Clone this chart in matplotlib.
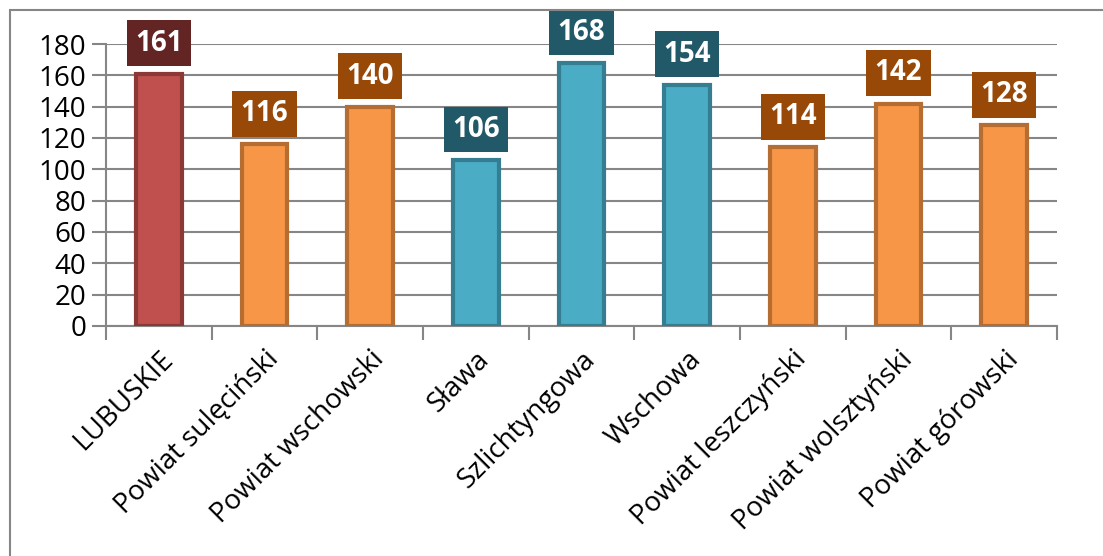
import matplotlib
matplotlib.use("Agg")
import matplotlib.pyplot as plt
from matplotlib.patches import Rectangle
from matplotlib.ticker import FixedLocator

categories = ["LUBUSKIE", "Powiat sulęciński", "Powiat wschowski", "Sława",
              "Szlichtyngowa", "Wschowa", "Powiat leszczyński",
              "Powiat wolsztyński", "Powiat górowski"]
values = [161, 116, 140, 106, 168, 154, 114, 142, 128]
groups = ["woj", "pow", "pow", "gm", "gm", "gm", "pow", "pow", "pow"]

fill = {"woj": "#C0504D", "pow": "#F79646", "gm": "#4BACC6"}
edge = {"woj": "#8C3836", "pow": "#B66D31", "gm": "#357D91"}
box = {"woj": "#632523", "pow": "#984807", "gm": "#215968"}

plt.rcParams['font.family'] = ['Open Sans', 'DejaVu Sans']

fig = plt.figure(figsize=(11.03, 5.56), dpi=100)
ax = fig.add_axes([106 / 1103, 1 - 326 / 556, (1057 - 106) / 1103, (326 - 44) / 556])

x = list(range(len(categories)))
for i, v in enumerate(values):
    g = groups[i]
    ax.bar(i, v, width=0.43, color=fill[g], edgecolor=edge[g], linewidth=3, zorder=3)
    ax.annotate(str(v), (i, v), xytext=(0, 22), textcoords="offset points",
                ha="center", va="center", color="white", fontsize=20,
                fontweight="bold", zorder=5,
                bbox=dict(boxstyle="square,pad=0.3", fc=box[g], ec="none"))

ax.set_xlim(-0.5, len(categories) - 0.5)
ax.set_ylim(0, 180)
ax.set_yticks(range(0, 181, 20))
ax.tick_params(axis="y", labelsize=20, length=10, color="#868686", pad=4)
ax.grid(axis="y", color="#868686", linewidth=1.5, zorder=0)

ax.set_xticks(x)
ax.set_xticklabels(categories, rotation=45, ha="right", rotation_mode="anchor", fontsize=20)
ax.tick_params(axis="x", length=0, pad=14)
ax.xaxis.set_minor_locator(FixedLocator([i - 0.5 for i in range(len(categories) + 1)]))
ax.tick_params(axis="x", which="minor", length=10, color="#868686", width=1.5)

for s in ["top", "right"]:
    ax.spines[s].set_visible(False)
for s in ["left", "bottom"]:
    ax.spines[s].set_color("#868686")
    ax.spines[s].set_linewidth(1.5)
ax.tick_params(axis="y", width=1.5)

fig.patches.append(Rectangle((10 / 1103, -0.1), 1.2, 1 - 10 / 556 + 0.1,
                             transform=fig.transFigure, fill=False,
                             edgecolor="#868686", linewidth=1.5))

fig.savefig("out.png", dpi=100)
